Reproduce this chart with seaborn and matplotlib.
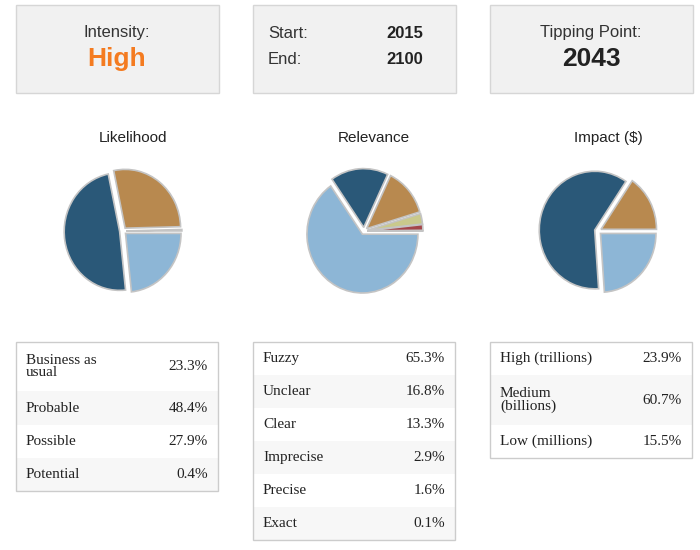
import matplotlib
matplotlib.use("Agg")
import matplotlib.pyplot as plt
from matplotlib.patches import Rectangle
import seaborn as sns

sns.set_theme(style="white")
plt.rcParams["font.family"] = ["Liberation Sans", "DejaVu Sans"]

# ---------------------------------------------------------------------------
# Data
# ---------------------------------------------------------------------------
intensity = "High"
start_year, end_year = 2015, 2100
tipping_point = 2043

likelihood_labels = ["Business as\nusual", "Probable", "Possible", "Potential"]
likelihood_values = [23.3, 48.4, 27.9, 0.4]
relevance_labels = ["Fuzzy", "Unclear", "Clear", "Imprecise", "Precise", "Exact"]
relevance_values = [65.3, 16.8, 13.3, 2.9, 1.6, 0.1]
impact_labels = ["High (trillions)", "Medium\n(billions)", "Low (millions)"]
impact_values = [23.9, 60.7, 15.5]

panel_titles = ["Likelihood", "Relevance", "Impact ($)"]
pie_colors = ["#8db6d6", "#2a5878", "#b8894f", "#c9c98c", "#a4464a", "#dddddd"]

W, H = 700, 550
fig = plt.figure(figsize=(W / 100, H / 100), dpi=100)
bg = fig.add_axes([0, 0, 1, 1])
bg.set_xlim(0, W)
bg.set_ylim(H, 0)
bg.axis("off")

# ---------------------------------------------------------------------------
# Top info boxes
# ---------------------------------------------------------------------------
box_x = [16, 253, 490]
for x in box_x:
    bg.add_patch(Rectangle((x, 5), 203, 88, facecolor="#f1f1f1", edgecolor="#d6d6d6", lw=1))

bg.text(117, 33, "Intensity:", ha="center", va="center", fontsize=12, color="#333333")
bg.text(117, 59, intensity, ha="center", va="center", fontsize=19, fontweight="bold", color="#f47b20")
bg.text(268, 33, "Start:", ha="left", va="center", fontsize=12, color="#333333")
bg.text(268, 59, "End:", ha="left", va="center", fontsize=12, color="#333333")
bg.text(423, 33, str(start_year), ha="right", va="center", fontsize=12, fontweight="bold", color="#222222")
bg.text(423, 59, str(end_year), ha="right", va="center", fontsize=12, fontweight="bold", color="#222222")
bg.text(591, 33, "Tipping Point:", ha="center", va="center", fontsize=12, color="#333333")
bg.text(591, 59, str(tipping_point), ha="center", va="center", fontsize=19, fontweight="bold", color="#222222")

# ---------------------------------------------------------------------------
# Pies
# ---------------------------------------------------------------------------
centers = [123, 364, 598]
pie_sets = [likelihood_values, relevance_values, impact_values]
for cx, title, vals in zip(centers, panel_titles, pie_sets):
    bg.text(cx + 10, 138, title, ha="center", va="center", fontsize=11, color="#222222")
    ax = fig.add_axes([(cx - 75) / W, 1 - (231 + 75) / H, 150 / W, 150 / H])
    ax.pie(vals, colors=pie_colors[:len(vals)], startangle=0, counterclock=False,
           explode=[0.06] * len(vals), radius=0.98,
           wedgeprops=dict(edgecolor="#c4c4c4", linewidth=1.2))
    ax.set_aspect(1.06)
    ax.axis("off")

# ---------------------------------------------------------------------------
# Tables
# ---------------------------------------------------------------------------
tables = [
    (16, likelihood_labels, likelihood_values, [49, 34, 33, 33]),
    (253, relevance_labels, relevance_values, [33] * 6),
    (490, impact_labels, impact_values, [33, 50, 33]),
]
serif = ["Liberation Serif", "DejaVu Serif"]
for x, labels, vals, heights in tables:
    y = 342
    for i, (lab, v, h) in enumerate(zip(labels, vals, heights)):
        fc = "#f7f7f7" if i % 2 == 1 else "white"
        bg.add_patch(Rectangle((x, y), 202, h, facecolor=fc, edgecolor="none"))
        bg.text(x + 10, y + h / 2, lab, ha="left", va="center", fontsize=11,
                family=serif, color="#222222", linespacing=0.95)
        bg.text(x + 192, y + h / 2, f"{v:.1f}%", ha="right", va="center", fontsize=11,
                family=serif, color="#222222")
        y += h
    bg.add_patch(Rectangle((x, 342), 202, y - 342, facecolor="none", edgecolor="#cccccc", lw=1))

fig.savefig("out.png", dpi=100)
